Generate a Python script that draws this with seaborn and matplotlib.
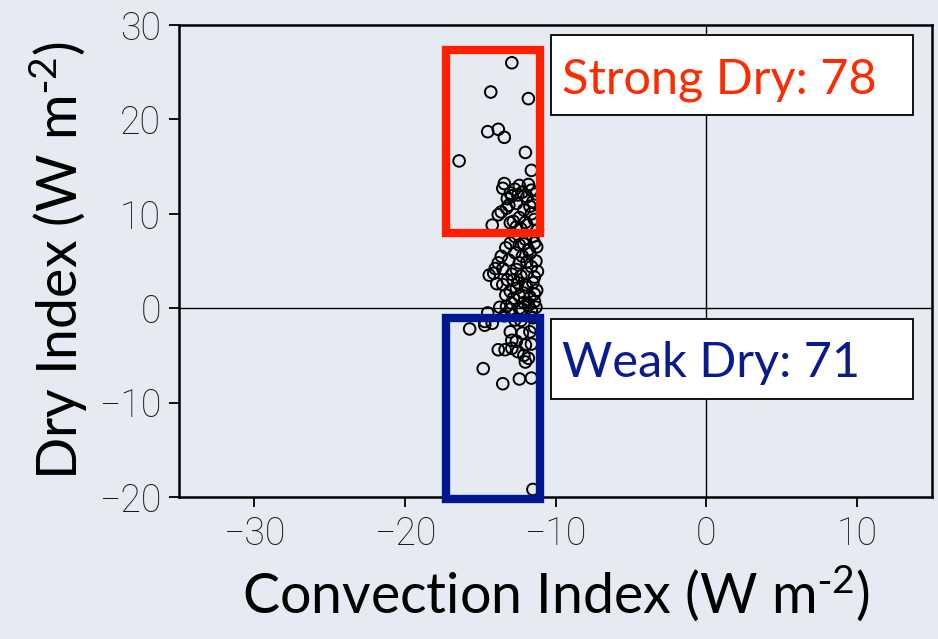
import matplotlib
matplotlib.use("Agg")
import matplotlib.pyplot as plt
import seaborn as sns
import pandas as pd
from matplotlib.patches import Rectangle

# ---- data ----
conv_top = [-12.9, -14.3, -11.8, -14.5, -13.8, -13.4, -16.4, -12.0, -11.6]
dry_top = [26.0, 22.9, 22.2, 18.7, 18.95, 18.1, 15.6, 16.5, 14.6]

conv_upper = [-13.4, -12.4, -11.6, -13.0, -12.7, -12.2, -11.9, -13.2, -12.6, -12.1,
              -11.6, -13.6, -13.8, -13.25, -14.2, -12.8, -11.9, -11.5, -12.4, -13.0,
              -12.3, -11.4, -12.9, -11.8, -12.5, -13.1, -11.3, -12.0, -11.7, -12.6,
              -11.2, -13.5]
dry_upper = [13.2, 13.0, 12.5, 12.2, 12.6, 12.3, 11.8, 11.6, 11.1, 10.4,
             10.0, 10.2, 9.9, 10.6, 8.8, 9.2, 8.8, 11.3, 9.6, 9.05,
             8.4, 9.4, 11.9, 13.1, 12.0, 10.9, 12.1, 9.1, 10.8, 8.6,
             8.3, 12.7]

conv_mid = [-13.0, -12.4, -11.25, -11.7, -13.6, -13.8, -14.0, -14.1, -13.5, -13.1,
            -12.4, -11.9, -11.4, -13.5, -12.8, -12.6, -12.1, -11.25, -12.8, -13.25,
            -11.8, -11.4, -12.4, -12.0, -11.5, -12.7, -11.8, -12.2, -11.3, -12.6,
            -11.6, -12.3, -11.5, -12.0, -13.0, -11.7, -12.4, -11.3, -12.9, -12.1,
            -13.7, -12.7, -13.3, -11.4, -12.1, -11.9, -12.9, -11.2, -13.2, -11.9,
            -12.5, -11.4, -14.4, -13.9, -13.3, -12.2, -11.6, -13.0]
dry_mid = [6.9, 6.7, 6.5, 5.8, 5.5, 4.8, 4.2, 3.7, 4.2, 5.1,
           4.8, 3.7, 3.3, 2.5, 3.0, 2.1, 1.6, 1.9, 1.05, 0.2,
           0.3, 0.7, 0.0, 7.3, 7.6, 7.6, 6.2, 5.5, 5.0, 4.1,
           4.4, 3.4, 2.7, 2.5, 1.8, 1.2, 1.3, 0.1, 0.5, 0.6,
           0.1, 5.9, 6.4, 6.9, 6.8, 4.9, 3.6, 3.9, 3.0, 2.2,
           2.7, 1.5, 3.5, 2.6, 1.4, -0.1, -0.2, -0.1]

conv_low = [-15.7, -14.7, -14.2, -14.5, -14.7, -13.0, -12.2, -11.7, -12.6, -12.0,
            -13.8, -13.35, -12.9, -12.5, -12.1, -11.8, -12.0, -14.8, -13.5, -12.4,
            -11.6, -12.7, -11.5, -13.4, -12.3, -11.5, -11.4, -12.9, -11.6]
dry_low = [-2.2, -1.8, -1.6, -0.5, -1.4, -2.5, -2.65, -2.5, -3.5, -3.9,
           -4.4, -4.4, -4.25, -4.6, -5.0, -5.3, -5.7, -6.4, -8.0, -7.5,
           -7.4, -1.25, -19.2, -0.8, -1.3, -1.0, -2.0, -3.4, -3.8]

x_ticks = [-30, -20, -10, 0, 10]
y_ticks = [-20, -10, 0, 10, 20, 30]
strong_box = (-17.25, 8.0, -11.0, 27.3)   # x0, y0, x1, y1
weak_box = (-17.25, -20.2, -11.0, -1.0)
strong_label = "Strong Dry: 78"
weak_label = "Weak Dry: 71"

df = pd.DataFrame({
    "conv": conv_top + conv_upper + conv_mid + conv_low,
    "dry": dry_top + dry_upper + dry_mid + dry_low,
})

bg = "#e6eaf2"
sns.set_theme(style="ticks")
plt.rcParams["font.family"] = ["Lato", "DejaVu Sans"]
plt.rcParams["mathtext.default"] = "regular"

fig = plt.figure(figsize=(9.38, 6.39), dpi=100, facecolor=bg)
ax = fig.add_axes([179 / 938, 1 - 497 / 639, (932 - 179) / 938, (497 - 25) / 639])
ax.set_facecolor(bg)

ax.axhline(0, color="black", lw=1.0, zorder=1)
ax.axvline(0, color="black", lw=1.0, zorder=1)

sns.scatterplot(data=df, x="conv", y="dry", ax=ax, marker="o", s=70,
                facecolors="none", edgecolor="black", linewidth=1.4, zorder=3)

for (x0, y0, x1, y1), col in [(strong_box, "#ff2000"), (weak_box, "#00178f")]:
    ax.add_patch(Rectangle((x0, y0), x1 - x0, y1 - y0, fill=False, edgecolor=col,
                           lw=6, zorder=4, clip_on=False))

ax.set_xlim(-35, 15)
ax.set_ylim(-20, 30)
ax.set_xticks(x_ticks)
ax.set_yticks(y_ticks)
ax.tick_params(axis="both", direction="out", length=7, width=1.3, color="black",
               labelsize=27, pad=6, labelcolor="#1a1a1a")
for lab in ax.get_xticklabels() + ax.get_yticklabels():
    lab.set_family(["Roboto", "DejaVu Sans"])
    lab.set_fontweight("light")
for sp in ax.spines.values():
    sp.set_visible(True)
    sp.set_color("black")
    sp.set_linewidth(1.8)

ax.set_xlabel(r"Convection Index (W m$^{\text{-}2}$)", fontsize=40, color="black", labelpad=8)
ax.set_ylabel(r"Dry Index (W m$^{\text{-}2}$)", fontsize=40, color="black", labelpad=6)

# label boxes
for (ytop, label, col, base) in [(35, strong_label, "#ff2a00", 93),
                                 (319, weak_label, "#0a1a8f", 377)]:
    fig.patches.append(Rectangle((551 / 938, 1 - (ytop + 80) / 639), 362 / 938, 80 / 639,
                                 transform=fig.transFigure, facecolor="white",
                                 edgecolor="black", lw=1.3, zorder=5))
    fig.text(562 / 938, 1 - base / 639, label, color=col, fontsize=35,
             ha="left", va="baseline", zorder=6)

fig.savefig("out.png", dpi=100, facecolor=bg)
